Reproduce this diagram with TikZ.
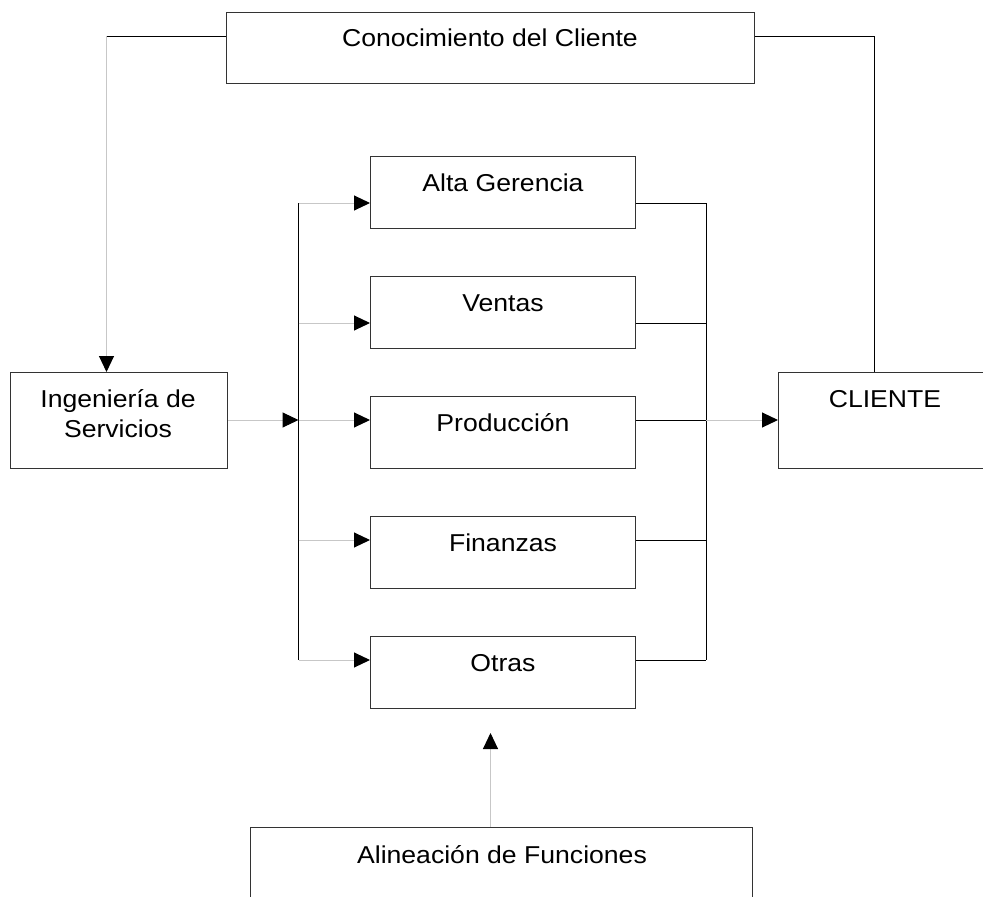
\documentclass[tikz,border=0pt]{standalone}
\usepackage{fontspec}
\setmainfont{Liberation Sans}[FakeStretch=1.09]
\usetikzlibrary{arrows.meta,calc}
\begin{document}
\begin{tikzpicture}[x=1pt,y=-1pt,
  box/.style={draw=black!80, line width=1.1pt, rectangle, anchor=north west, inner sep=0pt},
  lbl/.style={anchor=base, inner sep=0pt, font=\fontsize{24.4}{29}\selectfont},
  wire/.style={black, line width=1pt},
  feed/.style={draw=black!22, line width=1pt,
    -{Triangle[length=16pt,width=15pt,color=black]}},
]
\useasboundingbox (0,0) rectangle (983,897);
\clip (0,0) rectangle (983,897);

% boxes
\node[box, minimum width=528pt, minimum height=71pt] (conoc) at (226,12) {};
\node[box, minimum width=217pt, minimum height=96pt] (ing) at (10,372) {};
\node[box, minimum width=265pt, minimum height=72pt] (alta) at (370,156) {};
\node[box, minimum width=265pt, minimum height=72pt] (ventas) at (370,276) {};
\node[box, minimum width=265pt, minimum height=72pt] (prod) at (370,396) {};
\node[box, minimum width=265pt, minimum height=72pt] (fin) at (370,516) {};
\node[box, minimum width=265pt, minimum height=72pt] (otras) at (370,636) {};
\node[box, minimum width=240pt, minimum height=96pt] (cliente) at (778,372) {};
\node[box, minimum width=502pt, minimum height=100pt] (alin) at (250,827) {};

% labels
\node[lbl] (t-conoc) at (490,46) {Conocimiento del Cliente};
\node[lbl] (t-ing1) at (118,407) {Ingeniería de};
\node[lbl] (t-ing2) at (118,437) {Servicios};
\node[lbl] (t-alta) at (503,191) {Alta Gerencia};
\node[lbl] (t-ventas) at (503,311) {Ventas};
\node[lbl] (t-prod) at (503,431) {Producción};
\node[lbl] (t-fin) at (503,551) {Finanzas};
\node[lbl] (t-otras) at (503,671) {Otras};
\node[lbl] (t-cliente) at (885,407) {CLIENTE};
\node[lbl] (t-alin) at (502,863) {Alineación de Funciones};

% routing points
\coordinate (ctl) at (106.5,36);
\coordinate (ctr) at (874.5,36);
\coordinate (bl) at (298.5,0);
\coordinate (br) at (706,0);
\coordinate (r1) at (0,203);
\coordinate (r2) at (0,323);
\coordinate (r3) at (0,420);
\coordinate (r4) at (0,540);
\coordinate (r5) at (0,660);
\coordinate (up) at (490.5,733);

% customer knowledge loop
\draw[wire] (conoc.west |- ctl) -- (ctl);
\draw[feed] (ctl) -- (ctl |- ing.north);
\draw[wire] (conoc.east |- ctr) -- (ctr) -- (ctr |- cliente.north);

% distribution and collection buses
\draw[wire] (bl |- r1) -- (bl |- r5);
\draw[wire] (br |- r1) -- (br |- r5);
\draw[feed] (ing.east |- r3) -- (bl |- r3);

\draw[feed] (bl |- r1) -- (alta.west |- r1);
\draw[feed] (bl |- r2) -- (ventas.west |- r2);
\draw[feed] (bl |- r3) -- (prod.west |- r3);
\draw[feed] (bl |- r4) -- (fin.west |- r4);
\draw[feed] (bl |- r5) -- (otras.west |- r5);

\draw[wire] (alta.east |- r1) -- (br |- r1);
\draw[wire] (ventas.east |- r2) -- (br |- r2);
\draw[wire] (prod.east |- r3) -- (br |- r3);
\draw[wire] (fin.east |- r4) -- (br |- r4);
\draw[wire] (otras.east |- r5) -- (br |- r5);

\draw[feed] (br |- r3) -- (cliente.west |- r3);

% function alignment
\draw[feed] (alin.north -| up) -- (up);
\end{tikzpicture}
\end{document}
